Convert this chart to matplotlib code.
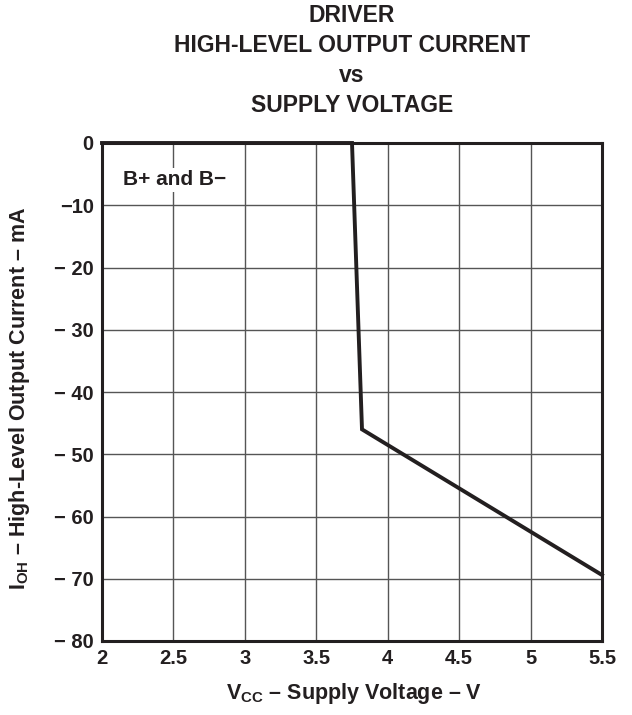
import matplotlib
matplotlib.use("Agg")
import matplotlib.pyplot as plt

plt.rcParams['font.family'] = ['Liberation Sans', 'DejaVu Sans']
plt.rcParams['font.weight'] = 'bold'
plt.rcParams['mathtext.fontset'] = 'custom'
plt.rcParams['mathtext.bf'] = 'Liberation Sans:bold'
plt.rcParams['mathtext.rm'] = 'Liberation Sans:bold'

# Data
vcc = [2.0, 3.75, 3.82, 5.5]
ioh = [0.0, 0.0, -46.0, -69.4]

x_ticks = [2, 2.5, 3, 3.5, 4, 4.5, 5, 5.5]
x_labels = ['2', '2.5', '3', '3.5', '4', '4.5', '5', '5.5']
y_ticks = [0, -10, -20, -30, -40, -50, -60, -70, -80]
y_labels = ['0', '\u221210', '\u2212 20', '\u2212 30', '\u2212 40', '\u2212 50', '\u2212 60', '\u2212 70', '\u2212 80']
title_lines = ['DRIVER', 'HIGH-LEVEL OUTPUT CURRENT', 'vs', 'SUPPLY VOLTAGE']

W, H = 632, 715
fig = plt.figure(figsize=(W / 100, H / 100), dpi=100)
ax = fig.add_axes([102 / W, 1 - 641 / H, 500 / W, 498 / H])

ax.plot(vcc, ioh, color='#231f20', lw=2.8, solid_joinstyle='miter', zorder=5, clip_on=False)

ax.set_xlim(2, 5.5)
ax.set_ylim(-80, 0)
ax.set_xticks(x_ticks)
ax.set_xticklabels(x_labels)
ax.set_yticks(y_ticks)
ax.set_yticklabels(y_labels)
ax.tick_params(length=0, labelsize=14.5, pad=6, colors='#231f20')
for lbl in ax.get_xticklabels() + ax.get_yticklabels():
    lbl.set_fontweight('bold')
ax.grid(True, color='#555555', lw=1.0)
ax.set_axisbelow(True)
for s in ax.spines.values():
    s.set_linewidth(2.2)
    s.set_color('#231f20')

ax.text(2.145, -5.9, 'B+ and B\u2212', fontsize=15, fontweight='bold', ha='left', va='center',
        color='#231f20', bbox=dict(facecolor='white', edgecolor='none', pad=2), zorder=4)

fig.text(354 / W, 1 - 693 / H, 'V$_{\\mathregular{CC}}$ \u2013 Supply Voltage \u2013 V', fontsize=15.5,
         fontweight='bold', ha='center', va='center', color='#231f20')
fig.text(20 / W, 1 - 398 / H, 'I$_{\\mathregular{OH}}$ \u2013 High-Level Output Current \u2013 mA', fontsize=15.5,
         fontweight='bold', ha='center', va='center', rotation=90, color='#231f20')

for i, line in enumerate(title_lines):
    fig.text(352 / W, 1 - (16 + 30 * i) / H, line, ha='center', va='center',
             fontsize=16.5, fontweight='bold', color='#231f20')

fig.savefig('out.png', dpi=100)
